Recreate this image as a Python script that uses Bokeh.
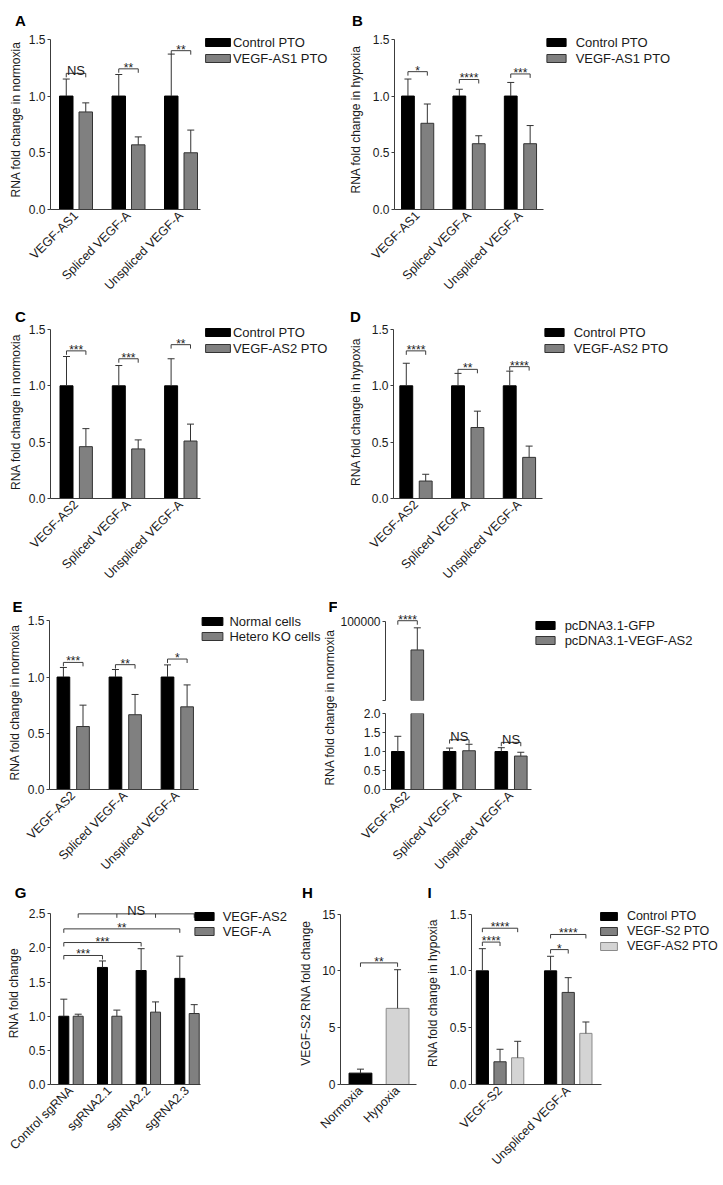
import math
from bokeh.plotting import figure
from bokeh.layouts import column, row
from bokeh.models import Range1d, FixedTicker, NumeralTickFormatter, Legend, LegendItem, Label, Spacer
from bokeh.core.properties import value
from bokeh.embed import file_html
from bokeh.resources import INLINE

# ---------------- data ----------------
cats_A = ["VEGF-AS1", "Spliced VEGF-A", "Unspliced VEGF-A"]
A_control = [1.0, 1.0, 1.0]
A_control_sd = [0.15, 0.19, 0.37]
A_pto = [0.86, 0.57, 0.50]
A_pto_sd = [0.08, 0.07, 0.20]
A_sig = ["NS", "**", "**"]
A_sig_y = [1.20, 1.24, 1.40]

cats_B = ["VEGF-AS1", "Spliced VEGF-A", "Unspliced VEGF-A"]
B_control = [1.0, 1.0, 1.0]
B_control_sd = [0.15, 0.06, 0.12]
B_pto = [0.76, 0.58, 0.58]
B_pto_sd = [0.17, 0.07, 0.16]
B_sig = ["*", "****", "***"]
B_sig_y = [1.215, 1.146, 1.195]

cats_C = ["VEGF-AS2", "Spliced VEGF-A", "Unspliced VEGF-A"]
C_control = [1.0, 1.0, 1.0]
C_control_sd = [0.26, 0.18, 0.24]
C_pto = [0.46, 0.44, 0.51]
C_pto_sd = [0.16, 0.08, 0.15]
C_sig = ["***", "***", "**"]
C_sig_y = [1.31, 1.24, 1.365]

cats_D = ["VEGF-AS2", "Spliced VEGF-A", "Unspliced VEGF-A"]
D_control = [1.0, 1.0, 1.0]
D_control_sd = [0.20, 0.11, 0.13]
D_pto = [0.155, 0.63, 0.365]
D_pto_sd = [0.06, 0.145, 0.10]
D_sig = ["****", "**", "****"]
D_sig_y = [1.31, 1.146, 1.17]

cats_E = ["VEGF-AS2", "Spliced VEGF-A", "Unspliced VEGF-A"]
E_normal = [1.0, 1.0, 1.0]
E_normal_sd = [0.085, 0.067, 0.108]
E_hetero = [0.56, 0.665, 0.735]
E_hetero_sd = [0.19, 0.18, 0.195]
E_sig = ["***", "**", "*"]
E_sig_y = [1.13, 1.11, 1.16]

cats_F = ["VEGF-AS2", "Spliced VEGF-A", "Unspliced VEGF-A"]
F_gfp = [1.0, 1.0, 1.0]
F_gfp_sd = [0.40, 0.09, 0.10]
F_as2 = [64000.0, 1.02, 0.88]
F_as2_sd = [28000.0, 0.17, 0.10]
F_sig = ["****", "NS", "NS"]
F_sig_y = [101000.0, 1.31, 1.24]

cats_G = ["Control sgRNA", "sgRNA2.1", "sgRNA2.2", "sgRNA2.3"]
G_as2 = [1.0, 1.715, 1.67, 1.555]
G_as2_sd = [0.25, 0.095, 0.32, 0.325]
G_vegfa = [1.0, 1.0, 1.06, 1.04]
G_vegfa_sd = [0.03, 0.09, 0.15, 0.13]
G_sig = ["***", "***", "**"]          # control vs sgRNA2.1 / 2.2 / 2.3 (VEGF-AS2)
G_sig_y = [1.89, 2.08, 2.28]
G_ns = "NS"                           # across the VEGF-A bars
G_ns_y = 2.5

cats_H = ["Normoxia", "Hypoxia"]
H_vals = [1.0, 6.7]
H_sd = [0.35, 3.4]
H_sig = "**"
H_sig_y = 10.7

cats_I = ["VEGF-S2", "Unspliced VEGF-A"]
I_control = [1.0, 1.0]
I_control_sd = [0.195, 0.128]
I_s2 = [0.20, 0.81]
I_s2_sd = [0.11, 0.13]
I_as2 = [0.235, 0.45]
I_as2_sd = [0.145, 0.10]
I_sig_s2 = ["****", "*"]
I_sig_s2_y = [1.253, 1.187]
I_sig_as2 = ["****", "****"]
I_sig_as2_y = [1.375, 1.32]

# ---------------- style ----------------
FONT = "Liberation Sans"
BLACK = "#000000"
GRAY = "#808080"
GRAY_LINE = "#333333"
LIGHT = "#d4d4d4"
LIGHT_LINE = "#8a8a8a"
AXIS = "#3c3c3c"
TEXT = "#1a1a1a"
ERR = "#333333"
LETTER_HALF = {"A": 5.4, "B": 5.4, "C": 5.4, "D": 5.4, "E": 5.0, "F": 4.6, "G": 5.8, "H": 5.4, "I": 2.1}


def make_fig(canvas, frame, k, g0, s, ymin=0.0):
    cx, cy, cw, ch = canvas
    fl, ft, fr, fb = frame
    p = figure(width=cw, height=ch,
               x_range=Range1d((fl - g0) / s, (fr - g0) / s),
               y_range=Range1d(ymin, ymin + (fb - ft) / k),
               output_backend="svg", toolbar_location=None, tools="")
    p.min_border_left = int(fl - cx)
    p.min_border_right = int(cx + cw - fr)
    p.min_border_top = int(ft - cy)
    p.min_border_bottom = int(cy + ch - fb)
    p.outline_line_color = None
    p.grid.visible = False
    p.border_fill_color = "white"
    p.background_fill_color = "white"
    return p


def style_y(p, ticks, fmt, top, label, standoff, bottom=0.0, size="12px"):
    ax = p.yaxis[0]
    ax.ticker = FixedTicker(ticks=ticks)
    ax.formatter = NumeralTickFormatter(format=fmt)
    ax.bounds = (bottom, top)
    ax.axis_label = label
    ax.axis_label_text_font = FONT
    ax.axis_label_text_font_size = "12px"
    ax.axis_label_text_font_style = "normal"
    ax.axis_label_text_color = TEXT
    ax.axis_label_standoff = standoff
    ax.major_label_text_font = FONT
    ax.major_label_text_font_size = size
    ax.major_label_text_color = TEXT
    ax.major_label_standoff = 2
    ax.major_tick_out = 3
    ax.major_tick_in = 0
    ax.minor_tick_out = 0
    ax.minor_tick_in = 0
    ax.axis_line_color = AXIS
    ax.major_tick_line_color = AXIS
    return ax


def style_x(p, cats, g0, s, end_px):
    ax = p.xaxis[0]
    ax.ticker = FixedTicker(ticks=list(range(len(cats))))
    ax.major_label_overrides = {i: c for i, c in enumerate(cats)}
    ax.major_label_orientation = math.pi / 4
    ax.bounds = (p.x_range.start, (end_px - g0) / s)
    ax.major_tick_out = 0
    ax.major_tick_in = 0
    ax.minor_tick_out = 0
    ax.minor_tick_in = 0
    ax.major_label_standoff = 4
    ax.major_label_text_font = FONT
    ax.major_label_text_font_size = "12.5px"
    ax.major_label_text_color = TEXT
    ax.axis_line_color = AXIS
    return ax


def add_bars(p, s, series, offsets_px, bar_px, above=None):
    """Bars + upper error bars. If `above` is given, only bars taller than it are drawn
    (hidden full-data renderers are returned for the legend)."""
    rends, centers = [], []
    w = bar_px / s
    for (vals, sds, fill, line), off in zip(series, offsets_px):
        xs_all = [i + off / s for i in range(len(vals))]
        idx = [i for i, v in enumerate(vals) if above is None or v > above]
        xs = [xs_all[i] for i in idx]
        vv = [vals[i] for i in idx]
        tops = [vals[i] + sds[i] for i in idx]
        r = p.vbar(x=xs, top=vv, bottom=0, width=w, fill_color=fill, line_color=line, line_width=1)
        p.segment(x0=xs, y0=vv, x1=xs, y1=tops, line_color=ERR, line_width=1)
        p.scatter(x=xs, y=tops, marker="dash", size=7, line_color=ERR, line_width=1)
        if above is not None:
            r = p.vbar(x=xs_all, top=vals, bottom=0, width=w, fill_color=fill, line_color=line,
                       line_width=1, visible=False)
        rends.append(r)
        centers.append(xs_all)
    return rends, centers


def add_bracket(p, xs, y, k, label, tick_px=4):
    t = tick_px / k
    lx = [[xs[0], xs[0], xs[-1], xs[-1]]]
    ly = [[y - t, y, y, y - t]]
    for xm in xs[1:-1]:
        lx.append([xm, xm])
        ly.append([y, y - t])
    p.multi_line(xs=lx, ys=ly, line_color=AXIS, line_width=1)
    ns = label == "NS"
    p.text(x=[(xs[0] + xs[-1]) / 2], y=[y], text=[label],
           text_font=value(FONT), text_font_size=value("13px" if ns else "12px"),
           text_align="center", text_baseline="alphabetic",
           y_offset=(-3 if ns else -1), text_color=TEXT)


def add_legend(p, frame, rends, names, sw_left, sw_w, text_x, row0, row_h, font_size="13px"):
    fl, ft, fr, fb = frame
    gw = sw_w / 0.8
    x0 = sw_left - 0.1 * gw
    top = row0 - row_h / 2
    bottom = top + row_h * len(names)
    leg = Legend(items=[LegendItem(label=value(n), renderers=[r]) for n, r in zip(names, rends)],
                 location=(x0 - fl, fb - bottom), orientation="vertical",
                 glyph_width=int(round(gw)), glyph_height=10, label_height=int(row_h),
                 label_standoff=int(round(text_x - x0 - gw)), spacing=0, padding=0, margin=0,
                 border_line_color=None, background_fill_alpha=0.0, inactive_fill_alpha=0.0,
                 label_text_font=FONT, label_text_font_size=font_size, label_text_color=TEXT)
    p.add_layout(leg)


def set_letter(p, frame, txt, x_img, standoff=2):
    """Panel letter as the plot title, shifted left of the y axis."""
    t = p.title
    t.text = txt
    t.text_font = FONT
    t.text_font_size = "15px"
    t.text_font_style = "bold"
    t.text_color = BLACK
    t.align = "left"
    t.vertical_align = "bottom"
    t.standoff = standoff
    t.offset = (x_img - LETTER_HALF[txt]) - frame[0]


def std_panel(geo, cats, series, names, sig, sig_y, ylabel, letter):
    p = make_fig(geo["canvas"], geo["frame"], geo["k"], geo["g0"], geo["s"])
    rends, centers = add_bars(p, geo["s"], series, geo["off"], geo["bar"])
    style_y(p, [0, 0.5, 1.0, 1.5], "0.0", 1.5, ylabel, geo["lstand"])
    style_x(p, cats, geo["g0"], geo["s"], geo["xend"])
    for i, (lab, yy) in enumerate(zip(sig, sig_y)):
        add_bracket(p, [centers[0][i], centers[1][i]], yy, geo["k"], lab)
    lg = geo["leg"]
    add_legend(p, geo["frame"], rends, names, lg["sw"], lg["sww"], lg["tx"], lg["r0"], lg["rh"])
    set_letter(p, geo["frame"], letter, geo["letter_x"])
    return p


# ---------------- geometry (page pixels) ----------------
GA = dict(canvas=(0, 8, 345, 296), frame=(50, 27, 340, 209), k=114.7, g0=75.5, s=52.5,
          off=(-9.75, 9.75), bar=13.5, xend=200, letter_x=20, lstand=3,
          leg=dict(sw=205, sww=25, tx=233, r0=42, rh=16))
GB = dict(canvas=(345, 8, 378, 296), frame=(389, 27, 716, 209), k=114.7, g0=412.5, s=52.2,
          off=(-9.85, 9.85), bar=13, xend=540, letter_x=352, lstand=7,
          leg=dict(sw=541, sww=19, tx=570, r0=42, rh=16))
GC = dict(canvas=(0, 304, 345, 290), frame=(50, 323, 340, 498), k=114.0, g0=75.7, s=52.3,
          off=(-9.7, 9.7), bar=13, xend=200, letter_x=20, lstand=3,
          leg=dict(sw=205, sww=25, tx=233, r0=332, rh=16))
GD = dict(canvas=(345, 304, 378, 290), frame=(390, 323, 716, 498), k=114.0, g0=412.7, s=52.2,
          off=(-9.8, 9.8), bar=13, xend=540, letter_x=352, lstand=6,
          leg=dict(sw=541, sww=19, tx=570, r0=332, rh=16))
GE = dict(canvas=(0, 594, 322, 286), frame=(49, 613, 322, 790), k=114.4, g0=72.7, s=52.05,
          off=(-9.8, 9.8), bar=12.7, xend=198, letter_x=17, lstand=3,
          leg=dict(sw=202, sww=21, tx=230, r0=622, rh=15))

pA = std_panel(GA, cats_A, [(A_control, A_control_sd, BLACK, BLACK), (A_pto, A_pto_sd, GRAY, GRAY_LINE)],
               ["Control PTO", "VEGF-AS1 PTO"], A_sig, A_sig_y, "RNA fold change in normoxia", "A")
pB = std_panel(GB, cats_B, [(B_control, B_control_sd, BLACK, BLACK), (B_pto, B_pto_sd, GRAY, GRAY_LINE)],
               ["Control PTO", "VEGF-AS1 PTO"], B_sig, B_sig_y, "RNA fold change in hypoxia", "B")
pC = std_panel(GC, cats_C, [(C_control, C_control_sd, BLACK, BLACK), (C_pto, C_pto_sd, GRAY, GRAY_LINE)],
               ["Control PTO", "VEGF-AS2 PTO"], C_sig, C_sig_y, "RNA fold change in normoxia", "C")
pD = std_panel(GD, cats_D, [(D_control, D_control_sd, BLACK, BLACK), (D_pto, D_pto_sd, GRAY, GRAY_LINE)],
               ["Control PTO", "VEGF-AS2 PTO"], D_sig, D_sig_y, "RNA fold change in hypoxia", "D")
pE = std_panel(GE, cats_E, [(E_normal, E_normal_sd, BLACK, BLACK), (E_hetero, E_hetero_sd, GRAY, GRAY_LINE)],
               ["Normal cells", "Hetero KO cells"], E_sig, E_sig_y, "RNA fold change in normoxia", "E")

# ---- F: strip holding the panel letter and the shared y label ----
FL_canvas = (322, 594, 15, 286)
FL_frame = (322, 613, 337, 790)          # same top/bottom borders as panel E
pFlab = figure(width=FL_canvas[2], height=FL_canvas[3], x_range=Range1d(0, 1), y_range=Range1d(0, 1),
               x_axis_type=None, y_axis_type=None, output_backend="svg", toolbar_location=None, tools="")
pFlab.min_border_left = 0
pFlab.min_border_right = 0
pFlab.min_border_top = FL_frame[1] - FL_canvas[1]
pFlab.min_border_bottom = FL_canvas[1] + FL_canvas[3] - FL_frame[3]
pFlab.outline_line_color = None
pFlab.grid.visible = False
set_letter(pFlab, FL_frame, "F", 332.5)
pFlab.add_layout(Label(x=329 - FL_frame[0], y=FL_frame[3] - 708, x_units="screen", y_units="screen",
                       text="RNA fold change in normoxia", angle=math.pi / 2, text_font=FONT,
                       text_font_size="12px", text_align="center", text_baseline="middle", text_color=TEXT))

# ---- F: broken axis (upper + lower segments) ----
F_g0, F_s = 405.2, 52.05
F_off, F_bar = (-9.8, 9.8), 12.7
Fup_frame = (383, 602, 716, 700)
Flow_frame = (383, 713, 716, 792)
F_seg = 2.0                                  # where the upper segment starts
k_up = (700 - 621) / (100000 - F_seg)
k_low = 39.5
F_series = [(F_gfp, F_gfp_sd, BLACK, BLACK), (F_as2, F_as2_sd, GRAY, GRAY_LINE)]

pFu = make_fig((337, 594, 386, 112), Fup_frame, k_up, F_g0, F_s, ymin=F_seg)
rFu, cFu = add_bars(pFu, F_s, F_series, F_off, F_bar, above=F_seg)
axu = style_y(pFu, [F_seg, 100000], "0", 100000, None, 3, bottom=F_seg)
axu.major_label_overrides = {F_seg: ""}
pFu.xaxis.visible = False
add_legend(pFu, Fup_frame, rFu, ["pcDNA3.1-GFP", "pcDNA3.1-VEGF-AS2"], 533, 19, 562, 625, 15)

pFl = make_fig((337, 706, 386, 174), Flow_frame, k_low, F_g0, F_s)
rFl, cFl = add_bars(pFl, F_s, F_series, F_off, F_bar)
style_y(pFl, [0, 0.5, 1.0, 1.5, 2.0], "0.0", 2.0, None, 3)
style_x(pFl, cats_F, F_g0, F_s, 530)

for i, (lab, yy) in enumerate(zip(F_sig, F_sig_y)):
    if yy > pFl.y_range.end:
        add_bracket(pFu, [cFu[0][i], cFu[1][i]], yy, k_up, lab)
    else:
        add_bracket(pFl, [cFl[0][i], cFl[1][i]], yy, k_low, lab)

# ---- G ----
G_frame = (50, 899, 290, 1084)
G_k, G_g0, G_s = 69.0, 70.5, 38.67
pG = make_fig((0, 880, 296, 300), G_frame, G_k, G_g0, G_s)
rG, cG = add_bars(pG, G_s, [(G_as2, G_as2_sd, BLACK, BLACK), (G_vegfa, G_vegfa_sd, GRAY, GRAY_LINE)],
                  (-7.2, 7.2), 10)
style_y(pG, [0, 0.5, 1.0, 1.5, 2.0, 2.5], "0.0", 2.5, "RNA fold change", 5)
style_x(pG, cats_G, G_g0, G_s, 200)
for j, (lab, yy) in enumerate(zip(G_sig, G_sig_y), start=1):
    add_bracket(pG, [cG[0][0], cG[0][j]], yy, G_k, lab)
add_bracket(pG, cG[1], G_ns_y, G_k, G_ns)
add_legend(pG, G_frame, rG, ["VEGF-AS2", "VEGF-A"], 194, 19, 222, 916, 15)
set_letter(pG, G_frame, "G", 20)

# ---- H ----
H_frame = (336, 899, 418, 1084)
H_k, H_g0, H_s = 11.49, 357.0, 39.0
pH = make_fig((296, 880, 126, 300), H_frame, H_k, H_g0, H_s)
H_x = list(range(len(cats_H)))
pH.vbar(x=H_x, top=H_vals, bottom=0, width=24 / H_s, fill_color=[BLACK, LIGHT],
        line_color=[BLACK, LIGHT_LINE], line_width=1)
H_tops = [v + e for v, e in zip(H_vals, H_sd)]
pH.segment(x0=H_x, y0=H_vals, x1=H_x, y1=H_tops, line_color=ERR, line_width=1)
pH.scatter(x=H_x, y=H_tops, marker="dash", size=7, line_color=ERR, line_width=1)
style_y(pH, [0, 5, 10, 15], "0", 15, "VEGF-S2 RNA fold change", 6)
style_x(pH, cats_H, H_g0, H_s, 416)
add_bracket(pH, [H_x[0], H_x[1]], H_sig_y, H_k, H_sig)
set_letter(pH, H_frame, "H", 303)

# ---- I ----
I_frame = (469, 899, 723, 1084)
I_k, I_g0, I_s = 114.9, 497.75, 68.75
pI = make_fig((422, 880, 301, 300), I_frame, I_k, I_g0, I_s)
rI, cI = add_bars(pI, I_s, [(I_control, I_control_sd, BLACK, BLACK), (I_s2, I_s2_sd, GRAY, GRAY_LINE),
                            (I_as2, I_as2_sd, LIGHT, LIGHT_LINE)], (-17.8, 0, 17.8), 12.3)
style_y(pI, [0, 0.5, 1.0, 1.5], "0.0", 1.5, "RNA fold change in hypoxia", 7)
style_x(pI, cats_I, I_g0, I_s, 600)
for i in range(len(cats_I)):
    add_bracket(pI, [cI[0][i], cI[1][i]], I_sig_s2_y[i], I_k, I_sig_s2[i])
    add_bracket(pI, [cI[0][i], cI[2][i]], I_sig_as2_y[i], I_k, I_sig_as2[i])
add_legend(pI, I_frame, rI, ["Control PTO", "VEGF-S2 PTO", "VEGF-AS2 PTO"], 598, 17, 625, 916, 15,
           font_size="12.5px")
set_letter(pI, I_frame, "I", 427)

layout = column(Spacer(width=723, height=8),
                row(pA, pB), row(pC, pD), row(pE, pFlab, column(pFu, pFl)), row(pG, pH, pI))

with open("out.html", "w") as f:
    f.write(file_html(layout, INLINE))
